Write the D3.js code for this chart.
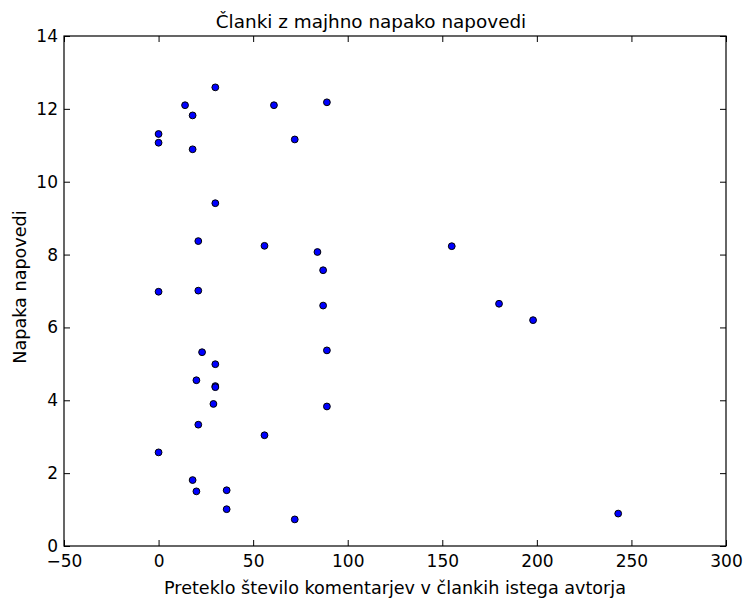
<!DOCTYPE html>
<html>
<head>
<meta charset="utf-8">
<script src="https://cdn.jsdelivr.net/npm/d3@7"></script>
<style>
  body { margin: 0; background: #fff; }
  text { font-family: "DejaVu Sans", sans-serif; fill: #000; }
</style>
</head>
<body>
<svg id="chart" width="743" height="600"></svg>
<script>
// the data: past comment count vs prediction error
const comments = [30, 14, 18, 0, 0, 18, 61, 89, 72, 30, 21, 56, 84, 87, 155, 0, 21, 87, 180, 198,
                  23, 30, 89, 20, 30, 30, 29, 89, 21, 56, 0, 18, 20, 36, 36, 72, 243];
const errors = [12.59, 12.10, 11.82, 11.31, 11.07, 10.89, 12.10, 12.18, 11.16, 9.41, 8.37, 8.24, 8.07, 7.57, 8.23, 6.98, 7.01, 6.60, 6.65, 6.20,
                5.32, 4.99, 5.37, 4.55, 4.39, 4.36, 3.90, 3.83, 3.33, 3.04, 2.57, 1.81, 1.50, 1.53, 1.01, 0.73, 0.89];
const xTicks = [-50, 0, 50, 100, 150, 200, 250, 300];
const yTicks = [0, 2, 4, 6, 8, 10, 12, 14];

const title = "Članki z majhno napako napovedi";
const xLabel = "Preteklo število komentarjev v člankih istega avtorja";
const yLabel = "Napaka napovedi";

let svg = d3.select("#chart");
let margin = {left: 64, right: 17, top: 36, bottom: 54};
let width = 743 - margin.left - margin.right,
    height = 600 - margin.top - margin.bottom;

let x = d3.scaleLinear().domain([-50, 300]).range([0, width]);
let y = d3.scaleLinear().domain([0, 14]).range([height, 0]);

let g = svg.append("g").attr("transform", `translate(${margin.left},${margin.top})`);

// ticks pointing inward on every side (matplotlib classic look)
function styleAxis(sel) {
    sel.select(".domain").remove();
    sel.selectAll(".tick line").attr("stroke", "#000").attr("stroke-width", 1);
    sel.selectAll(".tick text").style("font-size", "17px");
}

g.append("g").attr("transform", `translate(0,${height})`)
    .call(d3.axisBottom(x).tickValues(xTicks).tickSizeInner(-6).tickSizeOuter(0).tickPadding(9)
        .tickFormat(d => d < 0 ? "\u2212" + Math.abs(d) : d))
    .call(styleAxis);
g.append("g")
    .call(d3.axisTop(x).tickValues(xTicks).tickSizeInner(-6).tickSizeOuter(0).tickFormat(""))
    .call(styleAxis);
g.append("g")
    .call(d3.axisLeft(y).tickValues(yTicks).tickSizeInner(-6).tickSizeOuter(0).tickPadding(6))
    .call(styleAxis);
g.append("g").attr("transform", `translate(${width},0)`)
    .call(d3.axisRight(y).tickValues(yTicks).tickSizeInner(-6).tickSizeOuter(0).tickFormat(""))
    .call(styleAxis);

// frame
g.append("rect")
    .attr("width", width).attr("height", height)
    .attr("fill", "none").attr("stroke", "#000").attr("stroke-width", 1.2);

// points
g.append("g")
    .selectAll("circle")
    .data(comments.map((c, i) => ({c: c, e: errors[i]})))
    .enter()
    .append("circle")
    .attr("cx", d => x(d.c))
    .attr("cy", d => y(d.e))
    .attr("r", 3.4)
    .attr("fill", "#0000ff")
    .attr("stroke", "#000")
    .attr("stroke-width", 1);

// texts
svg.append("text")
    .attr("x", 371).attr("y", 28)
    .attr("text-anchor", "middle")
    .style("font-size", "18.4px")
    .text(title);

svg.append("text")
    .attr("x", margin.left + width / 2).attr("y", 594)
    .attr("text-anchor", "middle")
    .style("font-size", "17.6px")
    .text(xLabel);

svg.append("text")
    .attr("transform", `translate(26,${margin.top + height / 2 - 4}) rotate(-90)`)
    .attr("text-anchor", "middle")
    .style("font-size", "17.6px")
    .text(yLabel);
</script>
</body>
</html>
